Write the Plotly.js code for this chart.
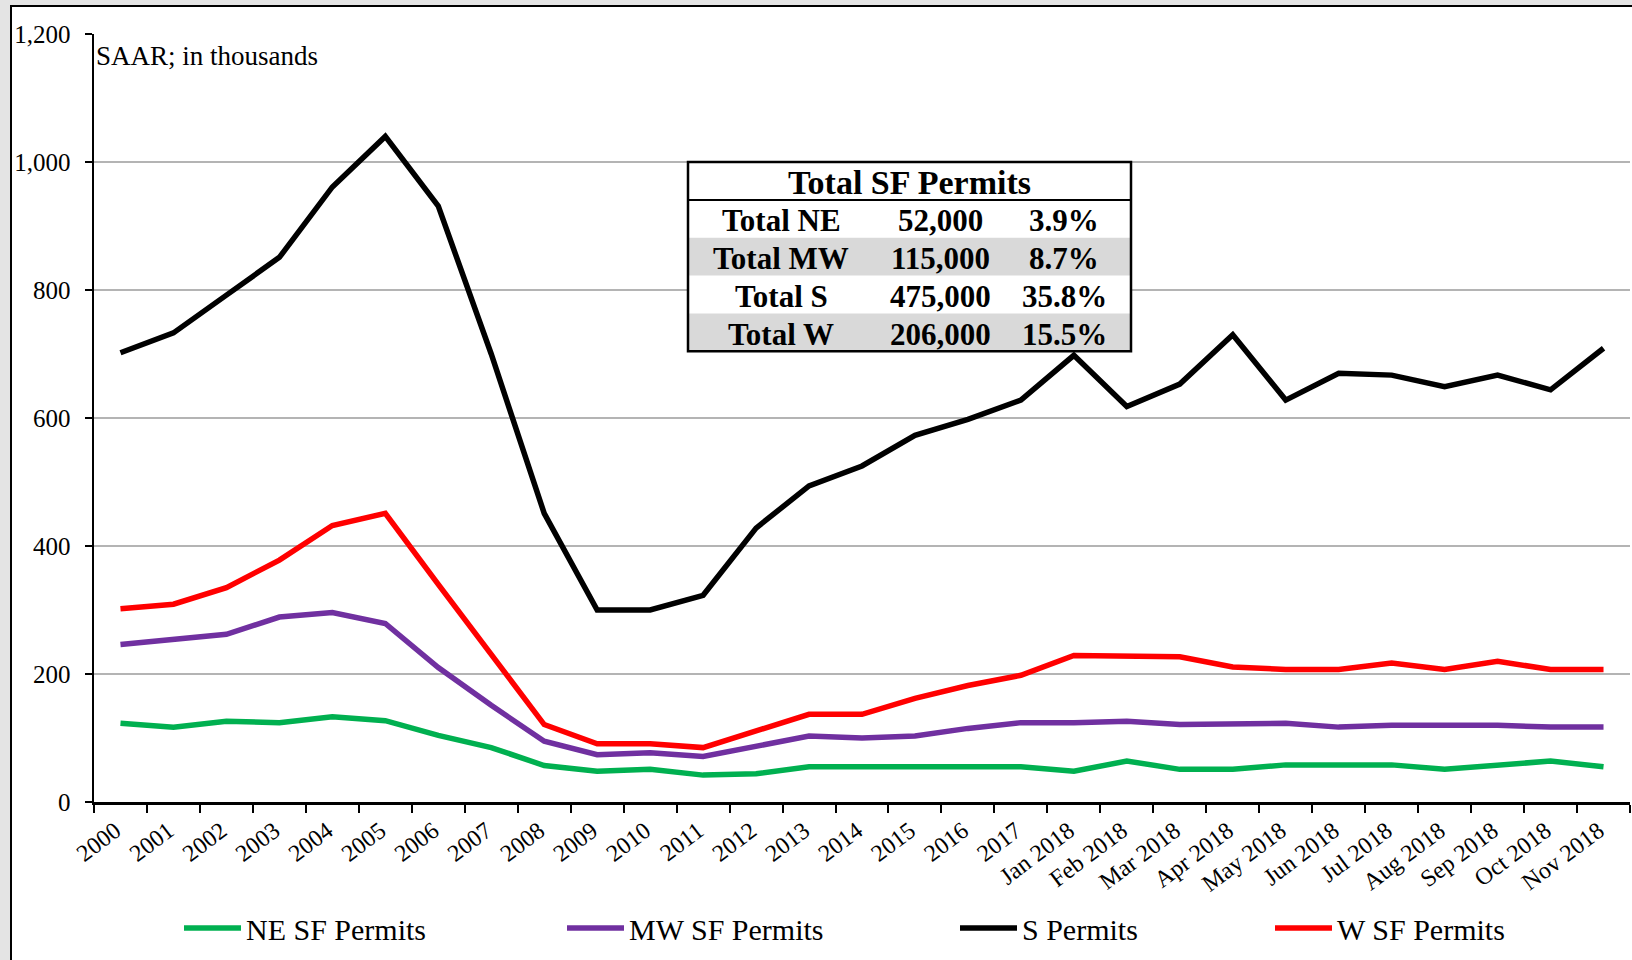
<!DOCTYPE html>
<html>
<head>
<meta charset="utf-8">
<script src="https://cdn.plot.ly/plotly-3.0.1.min.js"></script>
<style>
  html, body { margin:0; padding:0; width:1632px; height:960px; overflow:hidden; background:#e4e4e4; }
  #frame { position:absolute; left:10px; top:5px; width:1640px; height:970px; background:#ffffff;
           border-left:2px solid #000; border-top:2px solid #000; }
  #chart { position:absolute; left:0; top:0; width:1632px; height:960px; }
</style>
</head>
<body>
<div id="frame"></div>
<div id="chart"></div>
<script>
const categories = ['2000','2001','2002','2003','2004','2005','2006','2007','2008','2009',
  '2010','2011','2012','2013','2014','2015','2016','2017',
  'Jan 2018','Feb 2018','Mar 2018','Apr 2018','May 2018','Jun 2018','Jul 2018',
  'Aug 2018','Sep 2018','Oct 2018','Nov 2018'];

const neSF = [123,117,126,124,133,127,104,85,57,48,51,42,44,55,55,55,55,55,48,64,51,51,58,58,58,51,58,64,55];
const mwSF = [246,253,262,289,296,279,210,151,95,74,77,71,87,103,100,103,115,124,124,126,121,123,123,117,120,120,120,117,117];
const sPermits = [702,733,792,851,961,1040,931,700,451,300,300,323,428,494,525,573,598,628,698,618,653,730,628,670,667,649,667,644,709];
const wSF = [302,309,335,378,432,451,340,232,121,91,91,85,112,137,137,162,182,198,229,227,227,211,207,207,217,207,220,207,207];

const seriesNames = ['NE SF Permits','MW SF Permits','S Permits','W SF Permits'];
const seriesColors = ['#00b050','#7030a0','#000000','#ff0000'];

const tableTitle = 'Total SF Permits';
const tableLabels = ['Total NE','Total MW','Total S','Total W'];
const tableValues = ['52,000','115,000','475,000','206,000'];
const tablePcts = ['3.9%','8.7%','35.8%','15.5%'];
const yTickVals = [0,200,400,600,800,1000,1200];
const yTickText = ['0','200','400','600','800','1,000','1,200'];
const noteText = 'SAAR; in thousands';

// plot area geometry (px)
const L = 94, R = 2, T = 34, B = 158, W = 1632, H = 960;
const PW = W - L - R, PH = H - T - B;
const px = v => (v - L) / PW;
const py = v => (H - B - v) / PH;

const font = 'Liberation Serif, Times New Roman, serif';
const allData = [neSF, mwSF, sPermits, wSF];
const legendIds = ['legend','legend2','legend3','legend4'];
const legendX = [179, 562, 955, 1270];

const traces = allData.map((d, i) => ({
  type:'scatter', mode:'lines', x:categories, y:d, name:seriesNames[i],
  line:{color:seriesColors[i], width:5.5}, legend:legendIds[i], hoverinfo:'x+y'
}));

const shapes = [];
const annotations = [];
// table
const tx0 = 688, tx1 = 1131, ty0 = 162, tTitleB = 200, rowH = 37.8;
const tableFont = {family:font, size:31, weight:'bold', color:'#000'};
shapes.push({type:'rect', xref:'paper', yref:'paper', x0:px(tx0), x1:px(tx1), y0:py(ty0), y1:py(ty0 + 38 + 4*rowH),
  fillcolor:'#ffffff', line:{color:'#000', width:0}, layer:'above'});
for (let r = 0; r < tableLabels.length; r++) {
  const y0 = tTitleB + r*rowH, y1 = y0 + rowH;
  if (r % 2 === 1) {
    shapes.push({type:'rect', xref:'paper', yref:'paper', x0:px(tx0), x1:px(tx1), y0:py(y0), y1:py(y1),
      fillcolor:'#d9d9d9', line:{width:0}, layer:'above'});
  }
  const cy = py((y0+y1)/2 + 2);
  annotations.push({xref:'paper', yref:'paper', x:px(781), y:cy, text:tableLabels[r], showarrow:false,
    xanchor:'center', yanchor:'middle', font:tableFont});
  annotations.push({xref:'paper', yref:'paper', x:px(940), y:cy, text:tableValues[r], showarrow:false,
    xanchor:'center', yanchor:'middle', font:tableFont});
  annotations.push({xref:'paper', yref:'paper', x:px(1064), y:cy, text:tablePcts[r], showarrow:false,
    xanchor:'center', yanchor:'middle', font:tableFont});
}
shapes.push({type:'rect', xref:'paper', yref:'paper', x0:px(tx0), x1:px(tx1), y0:py(ty0), y1:py(ty0 + 38 + 4*rowH),
  fillcolor:'rgba(0,0,0,0)', line:{color:'#000', width:2.5}, layer:'above'});
shapes.push({type:'line', xref:'paper', yref:'paper', x0:px(tx0), x1:px(tx1), y0:py(tTitleB), y1:py(tTitleB),
  line:{color:'#000', width:2}, layer:'above'});
annotations.push({xref:'paper', yref:'paper', x:px((tx0+tx1)/2), y:py(182), text:tableTitle, showarrow:false,
  xanchor:'center', yanchor:'middle', font:{family:font, size:34, weight:'bold', color:'#000'}});
annotations.push({xref:'paper', yref:'paper', x:px(94), y:py(56), text:noteText, showarrow:false,
  xanchor:'left', yanchor:'middle', font:{family:font, size:27, color:'#000'}});

const layout = {
  width:W, height:H, margin:{l:L, r:R, t:T, b:B},
  paper_bgcolor:'rgba(0,0,0,0)', plot_bgcolor:'rgba(0,0,0,0)',
  showlegend:true,
  xaxis:{type:'category', range:[-0.5, categories.length-0.5], tickson:'boundaries',
    ticks:'outside', ticklen:8, tickwidth:2, tickcolor:'#000', showline:true, linecolor:'#000', linewidth:2.5,
    showgrid:false, zeroline:false, tickangle:-37, tickfont:{family:font, size:24, color:'#000'},
    ticklabelshift:-5, ticklabelstandoff:3, fixedrange:true},
  yaxis:{range:[0,1200], tickvals:yTickVals, ticktext:yTickText, ticks:'outside', ticklen:7, tickwidth:2, tickcolor:'#000',
    showline:true, linecolor:'#000', linewidth:2.5, showgrid:true, gridcolor:'#b4b4b4', gridwidth:2,
    zeroline:false, tickfont:{family:font, size:25, color:'#000'}, ticklabelstandoff:9, fixedrange:true},
  shapes:shapes, annotations:annotations
};
legendIds.forEach((id, i) => {
  layout[id] = {orientation:'h', x:px(legendX[i]), xanchor:'left', y:py(928), yanchor:'middle',
    bgcolor:'rgba(0,0,0,0)', borderwidth:0, itemwidth:57,
    font:{family:font, size:30, color:'#000'}};
});

Plotly.newPlot('chart', traces, layout, {displayModeBar:false, staticPlot:true});
</script>
</body>
</html>
